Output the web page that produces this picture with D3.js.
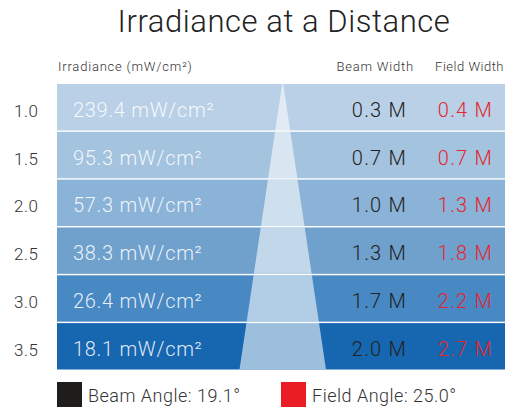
<!DOCTYPE html>
<html lang="en">
<head>
<meta charset="UTF-8">
<title>Irradiance at a Distance</title>
<script src="https://d3js.org/d3.v7.min.js"></script>
<style>
    body {
        margin: 0;
        padding: 0;
        background: #ffffff;
    }
    svg text {
        font-family: Roboto, "Liberation Sans", sans-serif;
        font-weight: 300;
    }
</style>
</head>
<body>
<svg id="chart" width="506" height="409"></svg>
<script>
// chart values
const distances = ["1.0", "1.5", "2.0", "2.5", "3.0", "3.5"];
const irradiance = [239.4, 95.3, 57.3, 38.3, 26.4, 18.1];
const beamWidth = [0.3, 0.7, 1.0, 1.3, 1.7, 2.0];
const fieldWidth = [0.4, 0.7, 1.3, 1.8, 2.2, 2.7];
const rowColors = ["#b9d0e7", "#a4c3df", "#8bb2d7", "#70a1cd", "#4888c3", "#1766b0"];
const legendItems = ["Beam Angle: 19.1°", "Field Angle: 25.0°"];
const legendColors = ["#1e1d1b", "#ea1d25"];

const svg = d3.select('#chart'),
    left = 57,
    right = 505,
    tableTop = 84,
    tableBottom = 369.5;

const y = d3.scaleBand()
    .domain(distances)
    .range([tableTop, tableBottom])
    .paddingInner(0.03)
    .paddingOuter(0);

const rowMid = i => y(distances[i]) + y.bandwidth() / 2;

// title
svg.append('text')
    .attr('x', 284)
    .attr('y', 32)
    .attr('text-anchor', 'middle')
    .attr('font-size', 31)
    .attr('letter-spacing', 0.55)
    .attr('fill', '#222')
    .text('Irradiance at a Distance');

// column headers
svg.append('text')
    .attr('x', left + 1)
    .attr('y', 71)
    .attr('font-size', 13)
    .attr('letter-spacing', 0.8)
    .attr('fill', '#333')
    .text('Irradiance (mW/cm²)');
svg.append('text')
    .attr('x', 414)
    .attr('y', 71)
    .attr('text-anchor', 'end')
    .attr('font-size', 13)
    .attr('letter-spacing', 0.8)
    .attr('fill', '#333')
    .text('Beam Width');
svg.append('text')
    .attr('x', 504)
    .attr('y', 70.5)
    .attr('text-anchor', 'end')
    .attr('font-size', 13)
    .attr('letter-spacing', 0.5)
    .attr('fill', '#333')
    .text('Field Width');

// row bands
svg.selectAll('rect.row')
    .data(distances)
    .join('rect')
    .attr('class', 'row')
    .attr('x', left)
    .attr('y', d => y(d))
    .attr('width', right - left)
    .attr('height', y.bandwidth())
    .attr('fill', (d, i) => rowColors[i]);

// light beam cone, clipped to the bands so the white gaps stay
const clip = svg.append('clipPath').attr('id', 'bands');
clip.selectAll('rect')
    .data(distances)
    .join('rect')
    .attr('x', left)
    .attr('y', d => y(d))
    .attr('width', right - left)
    .attr('height', y.bandwidth());

svg.append('path')
    .attr('clip-path', 'url(#bands)')
    .attr('d', d3.line()([[282.2, tableTop], [283.2, tableTop], [326, tableBottom], [239.5, tableBottom]]) + 'Z')
    .attr('fill', '#ffffff')
    .attr('fill-opacity', 0.58);

// row labels
svg.selectAll('text.dist')
    .data(distances)
    .join('text')
    .attr('class', 'dist')
    .attr('x', 38.5)
    .attr('y', (d, i) => rowMid(i) + 9.5)
    .attr('text-anchor', 'end')
    .attr('font-size', 17)
    .attr('letter-spacing', 0.5)
    .attr('fill', '#333')
    .text(d => d);

// irradiance values
svg.selectAll('text.irr')
    .data(irradiance)
    .join('text')
    .attr('class', 'irr')
    .attr('x', 73)
    .attr('y', (d, i) => rowMid(i) + 9.5)
    .attr('font-size', 20)
    .attr('letter-spacing', 0.7)
    .attr('fill', '#ffffff')
    .attr('fill-opacity', 0.88)
    .text(d => d3.format('.1f')(d) + ' mW/cm²');

// beam width
svg.selectAll('text.beam')
    .data(beamWidth)
    .join('text')
    .attr('class', 'beam')
    .attr('x', 407)
    .attr('y', (d, i) => rowMid(i) + 9.5)
    .attr('text-anchor', 'end')
    .attr('font-size', 20)
    .attr('letter-spacing', 1.2)
    .attr('fill', '#222')
    .text(d => d3.format('.1f')(d) + ' M');

// field width
svg.selectAll('text.field')
    .data(fieldWidth)
    .join('text')
    .attr('class', 'field')
    .attr('x', 493)
    .attr('y', (d, i) => rowMid(i) + 9.5)
    .attr('text-anchor', 'end')
    .attr('font-size', 20)
    .attr('letter-spacing', 1.2)
    .attr('fill', '#e3262f')
    .text(d => d3.format('.1f')(d) + ' M');

// legend
const legendX = d3.scalePoint()
    .domain(legendItems)
    .range([left, 281]);

const legend = svg.selectAll('g.legend')
    .data(legendItems)
    .join('g')
    .attr('class', 'legend')
    .attr('transform', d => `translate(${legendX(d)},382)`);

legend.append('rect')
    .attr('width', 25)
    .attr('height', 25)
    .attr('fill', (d, i) => legendColors[i]);

legend.append('text')
    .attr('x', 31)
    .attr('y', 20)
    .attr('font-size', 18)
    .attr('letter-spacing', 0.5)
    .attr('fill', '#333')
    .text(d => d);
</script>
</body>
</html>
